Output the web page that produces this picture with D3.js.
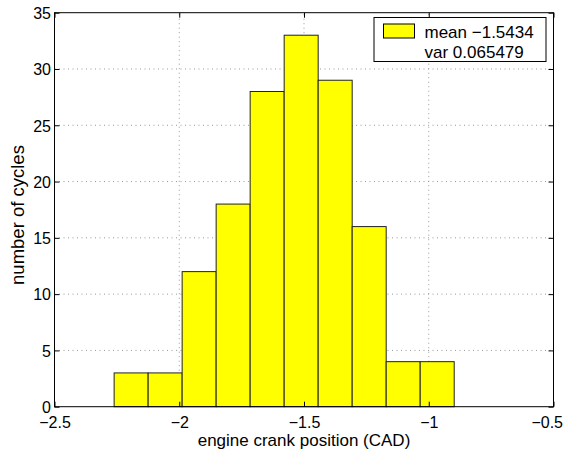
<!DOCTYPE html>
<html>
<head>
<meta charset="utf-8">
<script src="https://cdn.jsdelivr.net/npm/d3@7"></script>
<style>
  body { margin: 0; background: #fff; }
  svg { display: block; font-family: "Liberation Sans", Arial, Helvetica, sans-serif; }
</style>
</head>
<body>
<svg id="chart"></svg>
<script>
// histogram data
let binStart = -2.261, binWidth = 0.1363
let counts = [3, 3, 12, 18, 28, 33, 29, 16, 4, 4]
let xTicks = [-2.5, -2, -1.5, -1, -0.5]
let yTicks = [0, 5, 10, 15, 20, 25, 30, 35]
let legendLines = ['mean \u22121.5434', 'var 0.065479']

let W = 566, H = 451
let m = {left: 54.5, right: 12.5, top: 12.7, bottom: 44.3}

let svg = d3.select('#chart').attr('width', W).attr('height', H)

let x = d3.scaleLinear().domain([-2.5, -0.5]).range([m.left, W - m.right])
let y = d3.scaleLinear().domain([0, 35]).range([H - m.bottom, m.top])

let fmt = d => (d < 0 ? '\u2212' : '') + Math.abs(d)

// grid (dotted, under the bars)
let grid = svg.append('g')
grid.selectAll('.gx').data(xTicks.slice(1, -1)).enter().append('line')
  .attr('x1', d => x(d)).attr('x2', d => x(d))
  .attr('y1', y(0)).attr('y2', y(35))
grid.selectAll('.gy').data(yTicks.slice(1, -1)).enter().append('line')
  .attr('x1', x(-2.5)).attr('x2', x(-0.5))
  .attr('y1', d => y(d)).attr('y2', d => y(d))
grid.selectAll('line').attr('stroke', '#999').attr('stroke-width', 1)
  .attr('stroke-dasharray', '1,3.5')

// bars
svg.selectAll('rect.bar').data(counts).enter().append('rect')
  .attr('class', 'bar')
  .attr('x', (d, i) => x(binStart + i * binWidth))
  .attr('width', (d, i) => x(binStart + (i + 1) * binWidth) - x(binStart + i * binWidth))
  .attr('y', d => y(d))
  .attr('height', d => y(0) - y(d))
  .attr('fill', '#ffff00')
  .attr('stroke', '#222')
  .attr('stroke-width', 1)

// axes, ticks inward on all four sides
let tl = 5
let axB = svg.append('g').attr('transform', 'translate(0,' + y(0) + ')')
  .call(d3.axisBottom(x).tickValues(xTicks).tickFormat(fmt).tickSizeInner(-tl).tickSizeOuter(0))
let axT = svg.append('g').attr('transform', 'translate(0,' + y(35) + ')')
  .call(d3.axisTop(x).tickValues(xTicks).tickFormat('').tickSizeInner(-tl).tickSizeOuter(0))
let axL = svg.append('g').attr('transform', 'translate(' + x(-2.5) + ',0)')
  .call(d3.axisLeft(y).tickValues(yTicks).tickFormat(fmt).tickSizeInner(-tl).tickSizeOuter(0))
let axR = svg.append('g').attr('transform', 'translate(' + x(-0.5) + ',0)')
  .call(d3.axisRight(y).tickValues(yTicks).tickFormat('').tickSizeInner(-tl).tickSizeOuter(0))

svg.selectAll('.domain').remove()
svg.selectAll('.tick line').attr('stroke', '#000')
svg.selectAll('.tick text').attr('font-size', 16).attr('fill', '#000')
  .attr('font-family', '"Liberation Sans", Arial, sans-serif')
axB.selectAll('.tick text').attr('y', 21).attr('dy', null)
// last label pulled inside the window, as in the original
axB.selectAll('.tick text').filter(d => d === -0.5)
  .attr('text-anchor', 'end').attr('x', 9)
axL.selectAll('.tick text').attr('x', -3.5).attr('dy', '0.36em')

// frame
svg.append('rect')
  .attr('x', x(-2.5)).attr('y', y(35))
  .attr('width', x(-0.5) - x(-2.5)).attr('height', y(0) - y(35))
  .attr('fill', 'none').attr('stroke', '#000').attr('stroke-width', 1)

// axis labels
svg.append('text').text('engine crank position (CAD)')
  .attr('x', (x(-2.5) + x(-0.5)) / 2).attr('y', 445.5)
  .attr('text-anchor', 'middle').attr('font-size', 17)
svg.append('text').text('number of cycles')
  .attr('transform', 'translate(24,215) rotate(-90)')
  .attr('text-anchor', 'middle').attr('font-size', 18.5)

// legend
let lg = svg.append('g').attr('transform', 'translate(374,17.5)')
lg.append('rect').attr('width', 172).attr('height', 44)
  .attr('fill', '#fff').attr('stroke', '#000').attr('stroke-width', 1)
lg.append('rect').attr('x', 9.5).attr('y', 6.5).attr('width', 31).attr('height', 14)
  .attr('fill', '#ffff00').attr('stroke', '#000').attr('stroke-width', 1)
lg.selectAll('text.lt').data(legendLines).enter().append('text')
  .attr('class', 'lt')
  .attr('x', 50.5).attr('y', (d, i) => 20.2 + i * 20.6)
  .attr('font-size', 17)
  .text(d => d)
</script>
</body>
</html>
